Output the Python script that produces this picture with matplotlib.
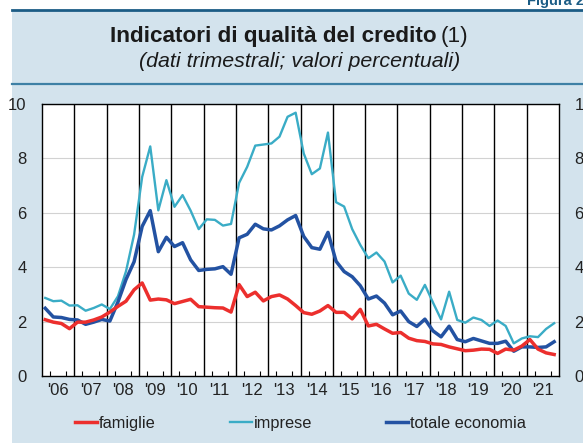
import numpy as np
import matplotlib.pyplot as plt
from matplotlib.lines import Line2D
from matplotlib.patches import Rectangle

plt.rcParams['font.family'] = ['Liberation Sans', 'DejaVu Sans']

W, H = 583, 443

# quarterly data, 2006 Q1 - 2021 Q4
years = list(range(2006, 2022))
year_labels = ["'" + str(y)[2:] for y in years]

famiglie = [2.07, 1.98, 1.93, 1.74, 1.98, 1.98, 2.06, 2.17, 2.35, 2.56,
            2.75, 3.17, 3.42, 2.79, 2.83, 2.80, 2.66, 2.74, 2.82, 2.55,
            2.53, 2.51, 2.50, 2.35, 3.36, 2.92, 3.08, 2.76, 2.92, 2.98,
            2.83, 2.59, 2.33, 2.27, 2.39, 2.59, 2.34, 2.34, 2.10, 2.45,
            1.84, 1.90, 1.73, 1.57, 1.60, 1.39, 1.30, 1.27, 1.18, 1.16,
            1.07, 1.00, 0.93, 0.95, 0.99, 0.98, 0.83, 0.99, 0.95, 1.10,
            1.34, 0.99, 0.85, 0.79]
imprese = [2.87, 2.75, 2.77, 2.59, 2.60, 2.40, 2.50, 2.63, 2.46, 2.93,
           3.85, 5.20, 7.32, 8.44, 6.09, 7.20, 6.22, 6.65, 6.08, 5.40,
           5.76, 5.74, 5.53, 5.59, 7.10, 7.69, 8.47, 8.51, 8.55, 8.80,
           9.53, 9.68, 8.18, 7.42, 7.63, 8.95, 6.39, 6.23, 5.40, 4.82,
           4.33, 4.54, 4.21, 3.44, 3.69, 3.03, 2.80, 3.35, 2.70, 2.08,
           3.10, 2.06, 1.96, 2.15, 2.06, 1.84, 2.04, 1.84, 1.20, 1.38,
           1.46, 1.43, 1.73, 1.94]
totale = [2.49, 2.17, 2.15, 2.08, 2.06, 1.90, 1.98, 2.08, 2.02, 2.72,
          3.55, 4.20, 5.50, 6.08, 4.57, 5.10, 4.76, 4.90, 4.27, 3.88,
          3.92, 3.94, 4.02, 3.74, 5.08, 5.21, 5.58, 5.41, 5.37, 5.52,
          5.74, 5.90, 5.13, 4.72, 4.66, 5.28, 4.22, 3.84, 3.65, 3.32,
          2.83, 2.94, 2.68, 2.25, 2.39, 2.00, 1.82, 2.09, 1.66, 1.44,
          1.83, 1.34, 1.26, 1.38, 1.29, 1.20, 1.20, 1.28, 0.91, 1.07,
          1.07, 1.05, 1.07, 1.26]

x = 2006 + np.arange(len(famiglie)) / 4 + 0.1

fig = plt.figure(figsize=(W / 100, H / 100), dpi=100)

# light blue panel and rules
fig.patches.append(Rectangle((12 / W, 0), 1 - 12 / W, 1 - 10 / H, transform=fig.transFigure,
                             facecolor='#d3e3ed', edgecolor='none', zorder=-1))
fig.add_artist(Line2D([12 / W, 1], [1 - 10 / H] * 2, color='#1b5c85', lw=2))
fig.add_artist(Line2D([12 / W, 1], [1 - 84 / H] * 2, color='#3e80a5', lw=1.6))

fig.text(527 / W, 1 - 4.5 / H, 'Figura 2.1', ha='left', va='baseline', fontsize=10.5,
         weight='bold', color='#1b5c85')
fig.text(437 / W, 1 - 42 / H, 'Indicatori di qualità del credito', ha='right', va='baseline',
         fontsize=16.2, weight='bold', color='#1a1a1a')
fig.text(441 / W, 1 - 42 / H, '(1)', ha='left', va='baseline', fontsize=16.2, color='#1a1a1a')
fig.text(300 / W, 1 - 67 / H, '(dati trimestrali; valori percentuali)', ha='center',
         va='baseline', fontsize=15.4, style='italic', color='#1a1a1a')

ax = fig.add_axes([42 / W, 1 - 376 / H, 517 / W, 272 / H])
ax.set_facecolor('white')
ax.set_zorder(1)

l_imp, = ax.plot(x, imprese, color='#3aacc6', lw=1.7, label='imprese', zorder=3)
l_tot, = ax.plot(x, totale, color='#2352a2', lw=2.5, label='totale economia', zorder=4)
l_fam, = ax.plot(x, famiglie, color='#ec2f2d', lw=2.5, label='famiglie', zorder=5)

for y in years[1:]:
    ax.axvline(y, color='black', lw=1, zorder=2)

ax.set_xlim(2006, 2022)
ax.set_ylim(0, 10)
ax.set_yticks(range(0, 11, 2))
ax.yaxis.grid(True, color='#d2d2d2', lw=0.8)
ax.set_axisbelow(True)

ax.set_xticks([y + 0.5 for y in years])
ax.set_xticklabels(year_labels)
ax.set_xticks([y + q / 4 for y in years for q in (1, 2, 3)], minor=True)
ax.tick_params(axis='x', which='major', length=0, pad=5, labelsize=12, labelcolor='#222222')
ax.tick_params(axis='x', which='minor', direction='in', length=3.5, width=0.8)
ax.tick_params(axis='y', length=0, pad=11, labelsize=12, labelcolor='#222222',
               labelleft=True, labelright=True)
for s in ax.spines.values():
    s.set_color('black')
    s.set_linewidth(1)

fig.legend([l_fam, l_imp, l_tot], ['famiglie', 'imprese', 'totale economia'],
           loc='center', bbox_to_anchor=(300.5 / W, 1 - 423.5 / H), ncol=3, frameon=False,
           fontsize=11.8, handlelength=1.35, handletextpad=0.12, columnspacing=4.5,
           labelcolor='#222222')

fig.savefig('out.png', dpi=100)
